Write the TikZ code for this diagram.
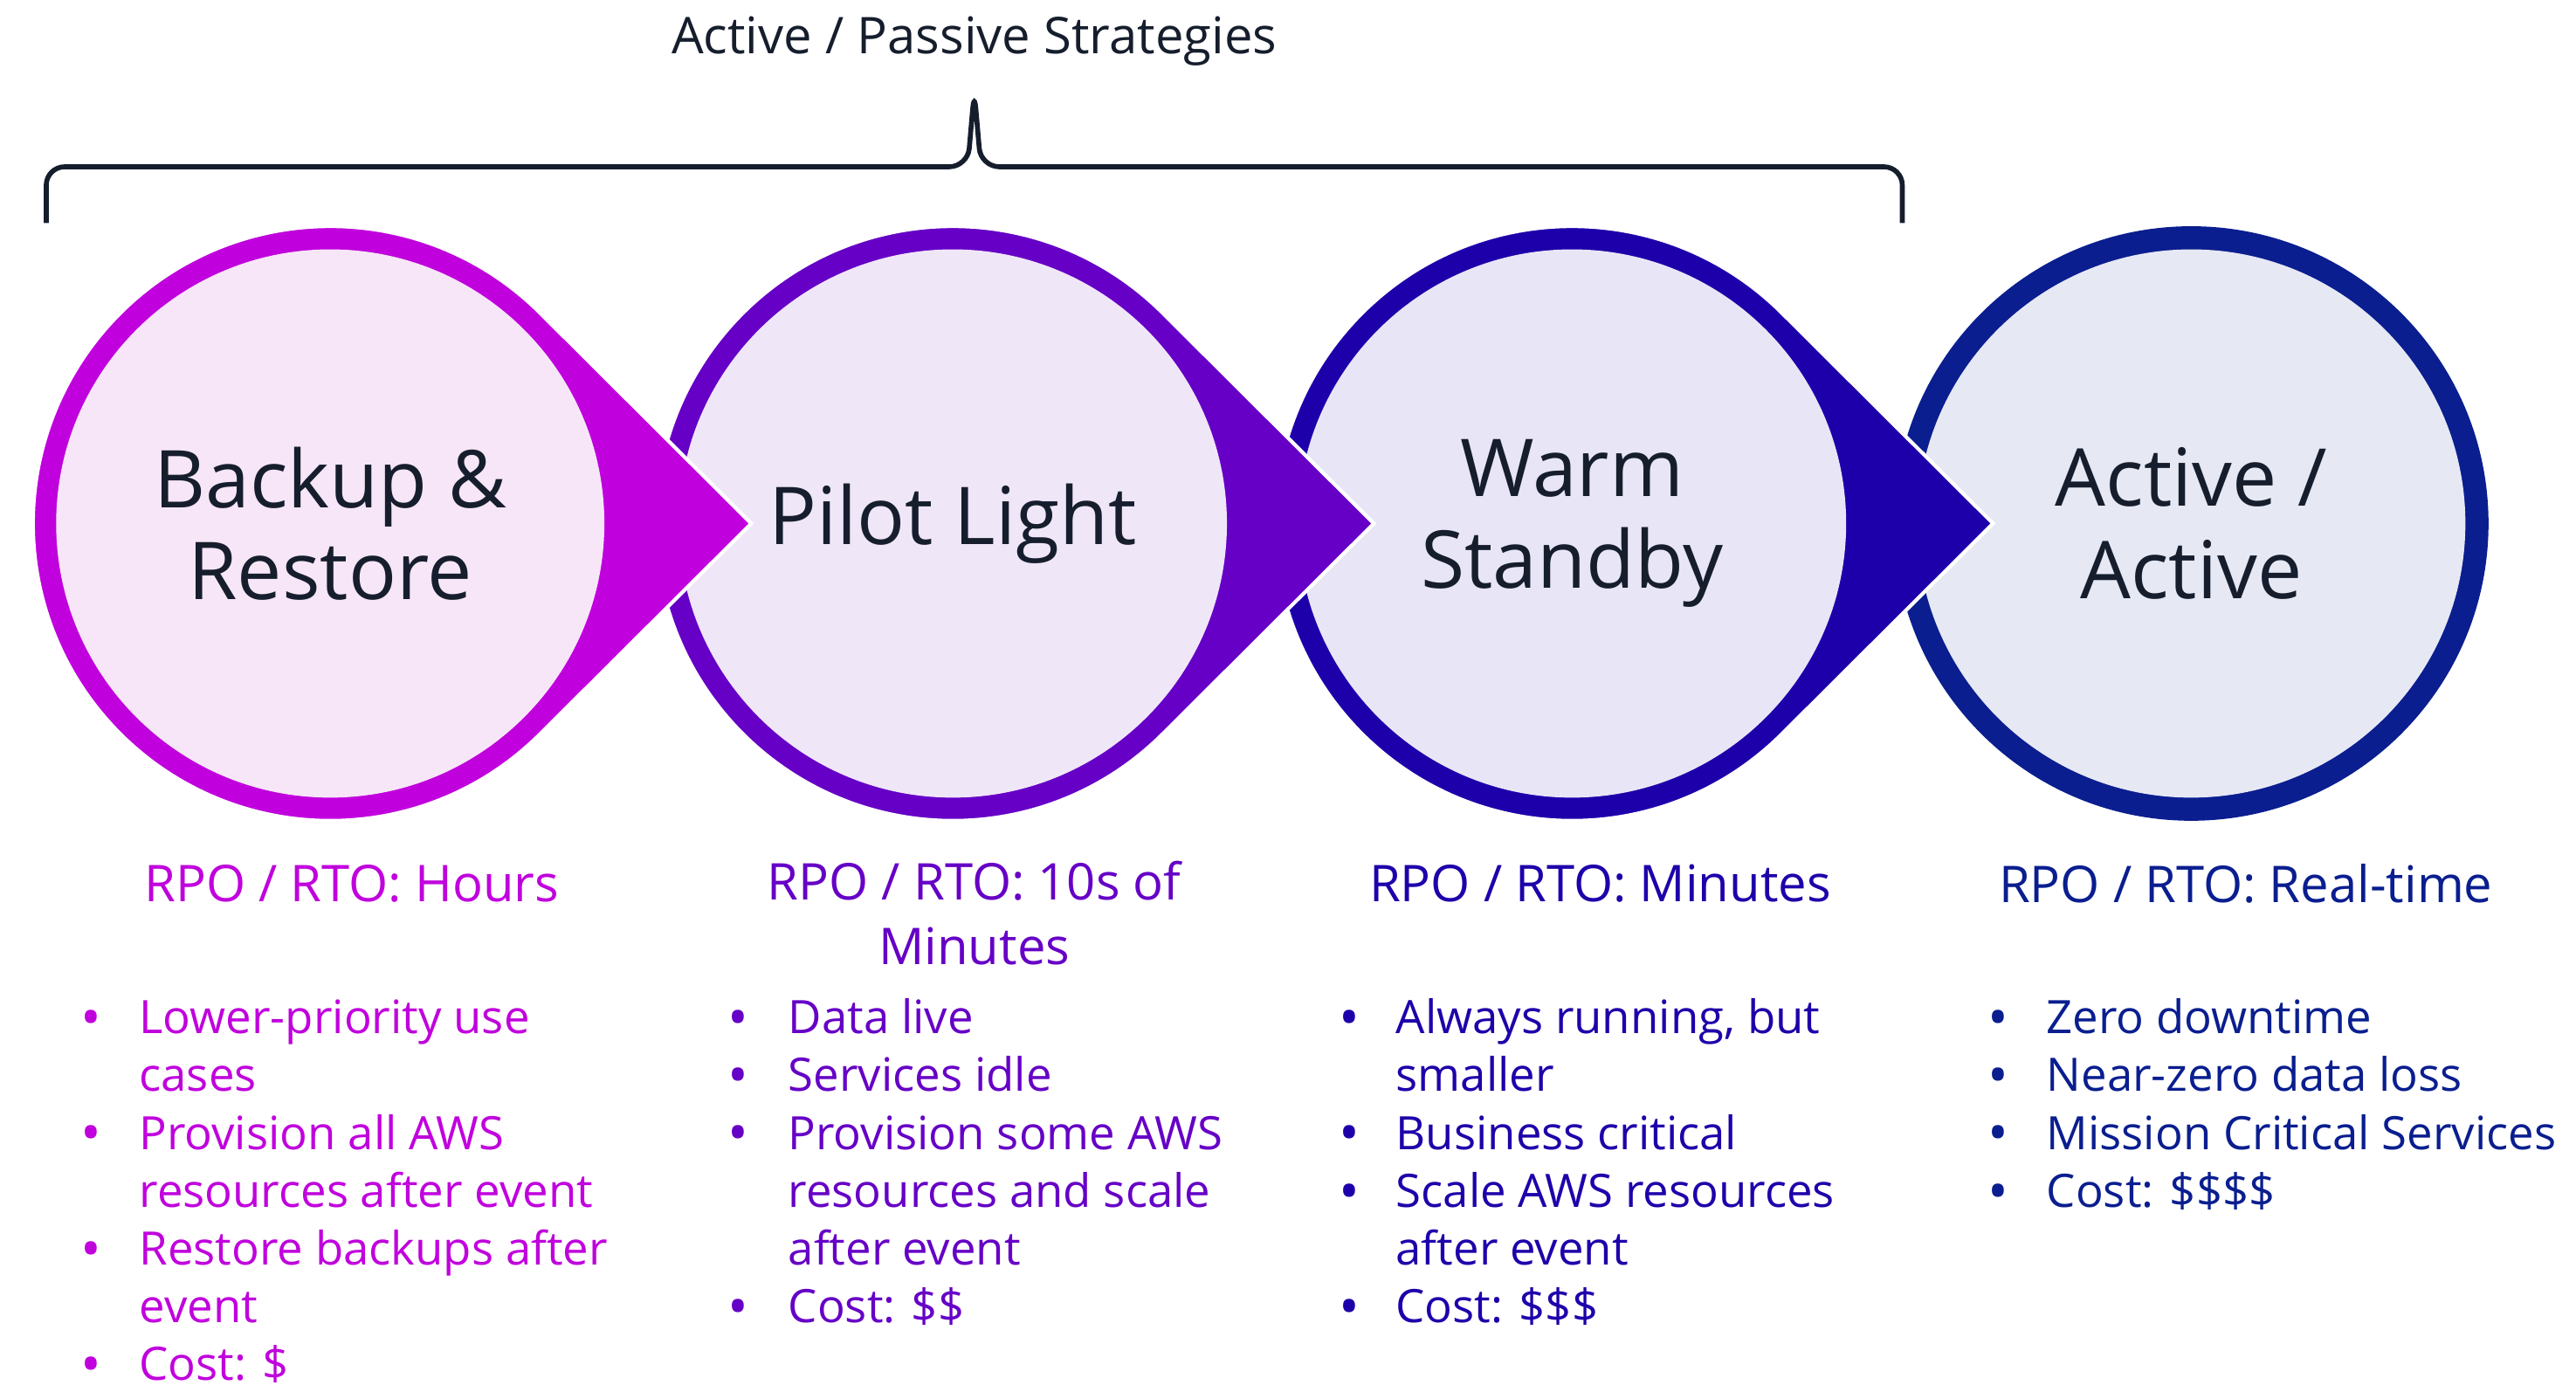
\documentclass[tikz,border=0pt]{standalone}
\usepackage{fontspec}
\setmainfont{Open Sans}
\usetikzlibrary{calc}
\definecolor{magen}{HTML}{C000DD}
\definecolor{purp}{HTML}{6600C6}
\definecolor{indig}{HTML}{1E00AA}
\definecolor{navy}{HTML}{0A1E8F}
\definecolor{ink}{HTML}{161E2D}
\definecolor{fillA}{HTML}{F7E6F7}
\definecolor{fillB}{HTML}{EFE6F8}
\definecolor{fillC}{HTML}{E8E6F6}
\definecolor{fillD}{HTML}{E6E8F4}
\begin{document}
\begin{tikzpicture}[x=0.0189cm,y=-0.0189cm,
  title/.style={font=\fontsize{26}{30}\selectfont, text=ink, align=center},
  rpo/.style={font=\fontsize{16.5}{21}\selectfont, align=center},
  line/.style={font=\fontsize{15}{18}\selectfont, anchor=base west, inner sep=0pt},
  drop/.style={line width=1.2pt, draw=white}
]
  \useasboundingbox (0,0) rectangle (1560,847);
  % circles, right to left so each tip lies over the next one
  \coordinate (cD) at (1327,317);
  \coordinate (cC) at (952,317);
  \coordinate (cB) at (577,317);
  \coordinate (cA) at (200,317);
  \fill[navy] (cD) circle[radius=180];
  \fill[fillD] (cD) circle[radius=166];
  \foreach \c/\col/\lt in {cC/indig/fillC, cB/purp/fillB, cA/magen/fillA}{
    \filldraw[drop, fill=\col] ($(\c)+(45:180)$) -- ($(\c)+(255,0)$) -- ($(\c)+(-45:180)$)
      arc[start angle=-45, end angle=-315, radius=180] -- cycle;
    \fill[\lt] (\c) circle[radius=166];
  }
  \node[title] (tA) at (cA) {Backup \&\\Restore};
  \node[title] (tB) at (cB) {Pilot Light};
  \node[title] (tC) at (cC) {Warm\\Standby};
  \node[title] (tD) at (cD) {Active /\\Active};

  % bracket
  \draw[ink, line width=1.6pt, rounded corners=6pt]
    (28,135) -- (28,101) -- (586,101) -- (590,55) -- (594,101) -- (1152,101) -- (1152,135);
  \node[font=\fontsize{16.5}{21}\selectfont, text=ink] (head) at (590,25) {Active / Passive Strategies};

  % RPO labels
  \node[rpo, text=magen] (rA) at (213,535) {RPO / RTO: Hours};
  \node[rpo, text=purp, anchor=north] (rB) at (590,515) {RPO / RTO: 10s of\\Minutes};
  \node[rpo, text=indig] (rC) at (969,535) {RPO / RTO: Minutes};
  \node[rpo, text=navy] (rD) at (1360,535) {RPO / RTO: Real-time};

  % bullet lists: bullet x / text x / colour / row / bullet? / text
  \foreach \bx/\tx/\col/\r/\b/\t in {
    55/84/magen/0/1/Lower-priority use, 55/84/magen/1/0/cases,
    55/84/magen/2/1/Provision all AWS, 55/84/magen/3/0/resources after event,
    55/84/magen/4/1/Restore backups after, 55/84/magen/5/0/event,
    55/84/magen/6/1/Cost: \$,
    447/477/purp/0/1/Data live, 447/477/purp/1/1/Services idle,
    447/477/purp/2/1/Provision some AWS, 447/477/purp/3/0/resources and scale,
    447/477/purp/4/0/after event, 447/477/purp/5/1/Cost: \$\$,
    817/845/indig/0/1/{Always running, but}, 817/845/indig/1/0/smaller,
    817/845/indig/2/1/Business critical, 817/845/indig/3/1/Scale AWS resources,
    817/845/indig/4/0/after event, 817/845/indig/5/1/Cost: \$\$\$,
    1210/1239/navy/0/1/Zero downtime, 1210/1239/navy/1/1/Near-zero data loss,
    1210/1239/navy/2/1/Mission Critical Services, 1210/1239/navy/3/1/Cost: \$\$\$\$}{
    \node[line, text=\col] (l\tx-\r) at (\tx,626+35*\r) {\t};
    \ifnum\b=1 \node[line, text=\col, anchor=base] (b\tx-\r) at (\bx,628+35*\r) {\fontsize{18}{20}\selectfont •};\fi
  }
\end{tikzpicture}
\end{document}
